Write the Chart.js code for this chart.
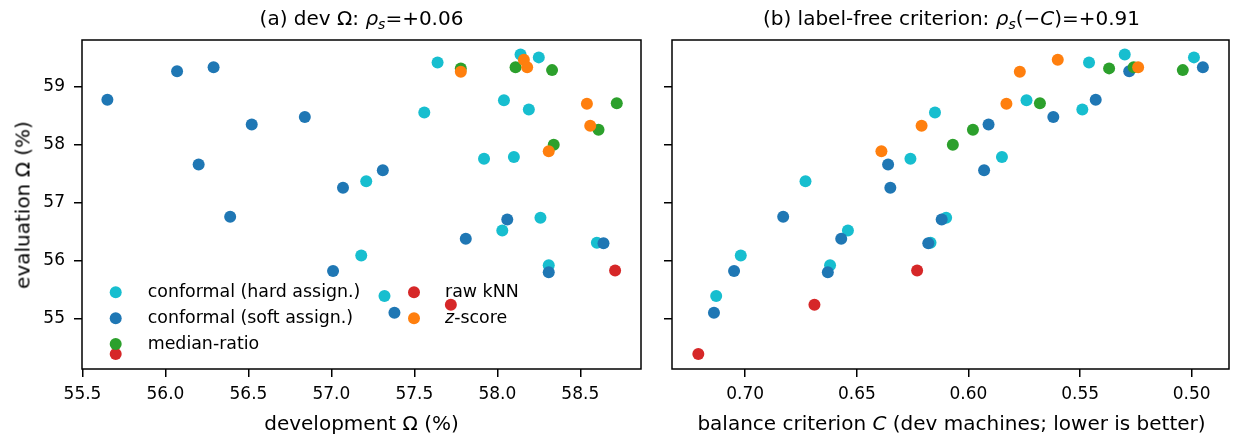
<!DOCTYPE html>
<html>
<head>
<meta charset="utf-8">
<script src="https://cdn.jsdelivr.net/npm/chart.js@4.4.0/dist/chart.umd.min.js"></script>
<style>
  html, body { margin: 0; padding: 0; background: #fff; }
  #wrap { position: relative; width: 1235px; height: 437px; overflow: hidden; background: #fff;
          font-family: "DejaVu Sans", sans-serif; color: #000; }
  canvas { position: absolute; top: 0; }
  #c1 { left: 0; }
  #c2 { left: 655px; }
  .lbl { position: absolute; font-size: 20px; line-height: 24px; height: 24px; text-align: center; white-space: nowrap; }
  .lbl sub { font-size: 0.7em; vertical-align: -0.25em; line-height: 0; }
  #ylab { width: 329px; left: -142.5px; top: 192.5px; transform: rotate(-90deg); }
</style>
</head>
<body>
<div id="wrap">
  <canvas id="c1" width="655" height="437"></canvas>
  <canvas id="c2" width="580" height="437"></canvas>
  <div class="lbl" style="left:82px;width:559px;top:6px">(a) dev Ω: <i>ρ</i><sub><i>s</i></sub>=+0.06</div>
  <div class="lbl" style="left:672px;width:559px;top:6px">(b) label-free criterion: <i>ρ</i><sub><i>s</i></sub>(−<i>C</i>)=+0.91</div>
  <div class="lbl" style="left:82px;width:559px;top:411px">development Ω (%)</div>
  <div class="lbl" style="left:672px;width:559px;top:411px">balance criterion <i>C</i> (dev machines; lower is better)</div>
  <div class="lbl" id="ylab">evaluation Ω (%)</div>
</div>
<script>
// ---- data ----
const seriesNames  = ['conformal (hard assign.)', 'conformal (soft assign.)', 'median-ratio', 'raw kNN', 'z-score'];
const seriesColors = ['#17becf', '#1f77b4', '#2ca02c', '#d62728', '#ff7f0e'];

const hardDev  = [57.64, 58.14, 58.25, 58.04, 58.19, 57.56, 57.92, 58.10, 57.21, 58.26, 58.03, 58.60, 57.18, 58.31, 57.32];
const hardEval = [59.42, 59.56, 59.51, 58.77, 58.61, 58.56, 57.76, 57.79, 57.37, 56.74, 56.52, 56.31, 56.09, 55.92, 55.39];
const hardC    = [0.546, 0.530, 0.499, 0.574, 0.549, 0.615, 0.626, 0.585, 0.673, 0.610, 0.654, 0.617, 0.702, 0.662, 0.713];

const softDev  = [55.65, 56.07, 56.29, 56.52, 56.20, 56.84, 56.39, 57.01, 57.31, 57.07, 58.06, 57.81, 58.64, 58.31, 57.38];
const softEval = [58.78, 59.27, 59.34, 58.35, 57.66, 58.48, 56.76, 55.82, 57.56, 57.26, 56.71, 56.38, 56.30, 55.80, 55.10];
const softC    = [0.543, 0.528, 0.495, 0.591, 0.636, 0.562, 0.683, 0.705, 0.593, 0.635, 0.612, 0.657, 0.618, 0.663, 0.714];

const medDev   = [57.78, 58.11, 58.33, 58.72, 58.61, 58.34];
const medEval  = [59.32, 59.34, 59.29, 58.72, 58.26, 58.00];
const medC     = [0.537, 0.526, 0.504, 0.568, 0.598, 0.607];

const rawDev   = [55.70, 57.72, 58.71];
const rawEval  = [54.39, 55.24, 55.83];
const rawC     = [0.721, 0.669, 0.623];

const zDev     = [57.78, 58.16, 58.18, 58.54, 58.56, 58.31];
const zEval    = [59.26, 59.47, 59.34, 58.71, 58.33, 57.89];
const zC       = [0.577, 0.560, 0.524, 0.583, 0.621, 0.639];

const devTicks  = [55.5, 56.0, 56.5, 57.0, 57.5, 58.0, 58.5];
const evalTicks = [55, 56, 57, 58, 59];
const cTicks    = [0.50, 0.55, 0.60, 0.65, 0.70];

const devX  = [hardDev, softDev, medDev, rawDev, zDev];
const cX    = [hardC, softC, medC, rawC, zC];
const evalY = [hardEval, softEval, medEval, rawEval, zEval];
const drawOrder = [5, 4, 3, 2, 1];

// ---- helpers ----
const FONT = '"DejaVu Sans", sans-serif';
function makeDatasets(xs) {
  return seriesNames.map((name, s) => ({
    label: name,
    data: xs[s].map((x, i) => ({ x: x, y: evalY[s][i] })),
    backgroundColor: seriesColors[s],
    borderWidth: 0,
    pointRadius: 6,
    pointHoverRadius: 6,
    order: drawOrder[s]
  }));
}

const boxPlugin = {
  id: 'box',
  afterDatasetsDraw(chart) {
    const a = chart.chartArea, ctx = chart.ctx;
    ctx.save();
    ctx.strokeStyle = '#000';
    ctx.lineWidth = 1.5;
    ctx.strokeRect(a.left, a.top, a.right - a.left, a.bottom - a.top);
    ctx.restore();
  }
};

const LEGEND_FONT = '17.4px ' + FONT;
const legendPlugin = {
  id: 'innerLegend',
  afterDraw(chart) {
    const ctx = chart.ctx;
    const cols = [[0, 1, 2], [3, 4]];
    const colMarkerX = [115.7, 414];
    const colTextX = [147.7, 445];
    const rowY = [292.3, 318.2, 344];
    ctx.save();
    ctx.font = LEGEND_FONT;
    ctx.textBaseline = 'middle';
    ctx.textAlign = 'left';
    cols.forEach((col, c) => {
      col.forEach((s, r) => {
        ctx.fillStyle = seriesColors[s];
        ctx.beginPath();
        ctx.arc(colMarkerX[c], rowY[r], 6, 0, Math.PI * 2);
        ctx.fill();
        ctx.fillStyle = '#000';
        const name = seriesNames[s];
        if (name === 'z-score') {
          ctx.font = 'italic ' + LEGEND_FONT;
          ctx.fillText('z', colTextX[c], rowY[r]);
          const w = ctx.measureText('z').width;
          ctx.font = LEGEND_FONT;
          ctx.fillText('-score', colTextX[c] + w, rowY[r]);
        } else {
          ctx.fillText(name, colTextX[c], rowY[r]);
        }
      });
    });
    ctx.restore();
  }
};

function axisCommon(tickVals, fmt, show) {
  return {
    type: 'linear',
    grid: { display: true, drawOnChartArea: false, drawTicks: true, tickLength: 8, color: '#000', lineWidth: 1.5 },
    border: { display: false },
    afterBuildTicks(scale) { scale.ticks = tickVals.map(v => ({ value: v })); },
    ticks: { display: show, color: '#000', font: { family: FONT, size: 17 }, padding: 7, callback: v => fmt(v), maxRotation: 0, autoSkip: false }
  };
}

function makeChart(id, xs, xCfg, yShow, yWidth, padRight, plugins) {
  const yCfg = axisCommon(evalTicks, v => String(v), yShow);
  yCfg.min = 54.13; yCfg.max = 59.81;
  yCfg.ticks.padding = 9;
  yCfg.afterFit = s => { s.width = yWidth; };
  xCfg.afterFit = s => { s.height = 68; };
  return new Chart(document.getElementById(id), {
    type: 'scatter',
    data: { datasets: makeDatasets(xs) },
    options: {
      responsive: false,
      devicePixelRatio: 1,
      animation: false,
      events: [],
      layout: { padding: { top: 40, right: padRight, left: 0, bottom: 0 } },
      plugins: { legend: { display: false }, tooltip: { enabled: false }, title: { display: false } },
      scales: { x: xCfg, y: yCfg }
    },
    plugins: plugins
  });
}

const x1 = axisCommon(devTicks, v => v.toFixed(1), true);
x1.min = 55.497; x1.max = 58.866;
makeChart('c1', devX, x1, true, 82, 14, [boxPlugin, legendPlugin]);

const x2 = axisCommon(cTicks, v => v.toFixed(2), true);
x2.min = 0.4833; x2.max = 0.7328; x2.reverse = true;
makeChart('c2', cX, x2, false, 17, 4, [boxPlugin]);
</script>
</body>
</html>
